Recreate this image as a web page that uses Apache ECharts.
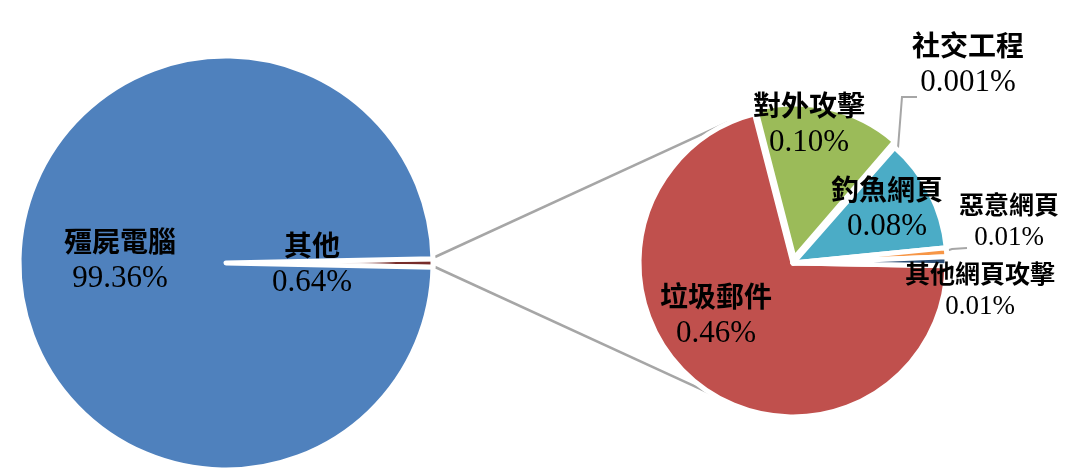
<!DOCTYPE html>
<html>
<head>
<meta charset="utf-8">
<script src="https://cdn.jsdelivr.net/npm/echarts@6/dist/echarts.min.js"></script>
<style>
  html, body { margin: 0; padding: 0; background: #ffffff; }
  #chart { width: 1066px; height: 475px; }
</style>
</head>
<body>
<div id="chart"></div>
<script>
// ---- data ----
const leftNames = ['其他', '殭屍電腦'];
const leftValues = [0.64, 99.36];
const leftDecimals = [2, 2];

const rightNames = ['垃圾郵件', '對外攻擊', '社交工程', '釣魚網頁', '惡意網頁', '其他網頁攻擊'];
const rightValues = [0.456, 0.099, 0.001, 0.077, 0.006, 0.006];
const rightDecimals = [2, 2, 3, 2, 2, 2];

// ---- layout / style ----
const leftColors = ['#772C2A', '#4F81BD'];
const rightColors = ['#C0504D', '#9BBB59', '#8064A2', '#4BACC6', '#F79646', '#2C4D75'];
const LC = [226, 263], LR = 207;
const RC = [793, 263], RR = 154;
const CJK = '"Noto Sans CJK TC", "Noto Sans CJK SC", sans-serif';
const NUM = '"Liberation Serif", "DejaVu Serif", serif';
const EXPLODED = '對外攻擊', EXPLODE_PX = 5;
const CLEAR = 'rgba(0,0,0,0)';

const leftLabelPos = [[312, 264], [120, 260]];
const rightLabelPos = [[716, 315], [809, 124], [968, 64], [887, 208], [1009, 221], [980, 290]];
const rightSmall = [false, false, false, false, true, true];

function rich(small) {
  return {
    n: { fontFamily: CJK, fontSize: small ? 25 : 28, fontWeight: 'bold', color: '#000', lineHeight: small ? 34 : 38 },
    v: { fontFamily: NUM, fontSize: small ? 27 : 31, color: '#000', lineHeight: small ? 34 : 38 }
  };
}

const sum = a => a.reduce((s, x) => s + x, 0);
const leftStart = leftValues[0] / sum(leftValues) * 360 / 2;
const rightTotal = sum(rightValues);
const rightStart = -1.0; // red slice starts just below 3 o'clock, runs clockwise

// mid-angle of exploded slice
const exIdx = rightNames.indexOf(EXPLODED);
const before = sum(rightValues.slice(0, exIdx));
const midDeg = rightStart - (before + rightValues[exIdx] / 2) / rightTotal * 360;
const midRad = midDeg * Math.PI / 180;
const RCx = [RC[0] + EXPLODE_PX * Math.cos(midRad), RC[1] - EXPLODE_PX * Math.sin(midRad)];

const leftData = leftNames.map((n, i) => ({
  name: n, value: leftValues[i],
  itemStyle: { color: leftColors[i] },
  label: { formatter: '{n|' + n + '}\n{v|' + leftValues[i].toFixed(leftDecimals[i]) + '%}', rich: rich(false) }
}));

const rightData = rightNames.map((n, i) => {
  const outside = (n === '社交工程' || n === '惡意網頁');
  return {
    name: n, value: rightValues[i],
    itemStyle: n === EXPLODED ? { color: CLEAR, borderColor: CLEAR } : { color: rightColors[i] },
    label: {
      position: outside ? 'outside' : 'inside',
      formatter: '{n|' + n + '}\n{v|' + rightValues[i].toFixed(rightDecimals[i]) + '%}',
      rich: rich(rightSmall[i])
    },
    labelLine: { show: outside, lineStyle: { color: '#A6A6A6', width: 2 } }
  };
});

const explodedData = rightNames.map((n, i) => ({
  name: n, value: rightValues[i],
  itemStyle: n === EXPLODED ? { color: rightColors[i] } : { color: CLEAR, borderColor: CLEAR }
}));

// connector lines (tangents from the small slice to the right pie)
function tangent(P, C, r, sign) {
  const dx = P[0] - C[0], dy = P[1] - C[1];
  const d = Math.hypot(dx, dy);
  const a = Math.acos(r / d) * sign;
  const base = Math.atan2(dy, dx) + a;
  return [C[0] + r * Math.cos(base), C[1] + r * Math.sin(base)];
}
const visR = RR - 2;
const p1 = [LC[0] + LR + 2, LC[1] - 6], p2 = [LC[0] + LR + 2, LC[1] + 4];
const t1 = tangent(p1, RC, visR + 3, 1);
const t2 = tangent(p2, RC, visR + 1, -1);

const chart = echarts.init(document.getElementById('chart'), null, { renderer: 'canvas' });
chart.setOption({
  backgroundColor: '#ffffff',
  animation: false,
  graphic: [
    { type: 'line', shape: { x1: p1[0], y1: p1[1], x2: t1[0], y2: t1[1] }, style: { stroke: '#A6A6A6', lineWidth: 2.5 }, z: 1 },
    { type: 'line', shape: { x1: p2[0], y1: p2[1], x2: t2[0], y2: t2[1] }, style: { stroke: '#A6A6A6', lineWidth: 2.5 }, z: 1 }
  ],
  series: [
    {
      type: 'pie', center: LC, radius: LR, startAngle: leftStart, clockwise: true,
      silent: true, avoidLabelOverlap: false,
      itemStyle: { borderColor: '#ffffff', borderWidth: 5 },
      label: { show: true, position: 'inside' },
      labelLine: { show: false },
      labelLayout: p => ({ x: leftLabelPos[p.dataIndex][0], y: leftLabelPos[p.dataIndex][1], align: 'center', verticalAlign: 'middle' }),
      data: leftData
    },
    {
      type: 'pie', center: RCx, radius: RR, startAngle: rightStart, clockwise: true,
      silent: true, avoidLabelOverlap: false, z: 2,
      itemStyle: { borderColor: '#ffffff', borderWidth: 5 },
      label: { show: false }, labelLine: { show: false },
      data: explodedData
    },
    {
      type: 'pie', center: RC, radius: RR, startAngle: rightStart, clockwise: true,
      silent: true, avoidLabelOverlap: false, z: 3,
      itemStyle: { borderColor: '#ffffff', borderWidth: 5 },
      label: { show: true },
      labelLayout: p => {
        const i = p.dataIndex;
        const o = { x: rightLabelPos[i][0], y: rightLabelPos[i][1], align: 'center', verticalAlign: 'middle', hideOverlap: false };
        if (rightNames[i] === '社交工程') o.labelLinePoints = [[898, 148], [902, 97], [917, 97]];
        if (rightNames[i] === '惡意網頁') o.labelLinePoints = [[946, 251], [952, 249], [967, 248]];
        return o;
      },
      data: rightData
    }
  ]
});
</script>
</body>
</html>
